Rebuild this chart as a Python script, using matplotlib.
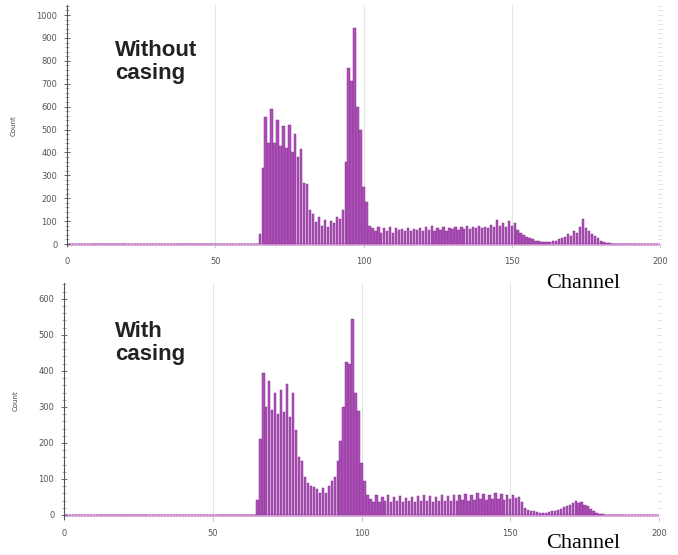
import numpy as np
import matplotlib.pyplot as plt
from matplotlib.ticker import MultipleLocator

# channel axis 0..200, counts (zero outside the listed span)
channels = np.arange(201)
first_channel = 64

# top histogram: without casing (channels 64..185)
counts_without = [0, 45, 330, 555, 440, 590, 440, 540, 430, 515,
                  420, 520, 400, 480, 380, 415, 265, 260, 150, 130,
                  95, 120, 80, 105, 75, 100, 90, 120, 110, 150,
                  360, 770, 710, 945, 600, 500, 250, 185, 80, 70,
                  55, 75, 50, 70, 55, 75, 50, 70, 60, 65,
                  55, 70, 55, 65, 60, 70, 55, 75, 60, 80,
                  55, 70, 60, 75, 55, 70, 65, 75, 60, 75,
                  65, 80, 65, 75, 70, 80, 70, 75, 70, 85,
                  75, 105, 80, 90, 75, 100, 80, 90, 60, 50,
                  40, 30, 25, 20, 15, 12, 10, 10, 8, 10,
                  12, 15, 20, 25, 30, 45, 35, 55, 50, 75,
                  110, 70, 55, 45, 35, 25, 15, 10, 5, 3,
                  2, 0]

# bottom histogram: with casing (channels 64..185)
counts_with = [0, 42, 210, 395, 300, 372, 292, 340, 280, 348,
               285, 365, 272, 340, 235, 160, 150, 105, 90, 80,
               78, 72, 60, 75, 62, 80, 95, 105, 150, 205,
               300, 425, 420, 545, 340, 290, 145, 95, 55, 45,
               35, 55, 35, 50, 38, 55, 35, 50, 38, 52,
               35, 48, 38, 50, 36, 52, 38, 55, 40, 52,
               36, 50, 40, 55, 38, 52, 40, 56, 38, 55,
               42, 58, 40, 55, 42, 60, 45, 58, 42, 56,
               45, 60, 45, 58, 42, 55, 45, 55, 48, 50,
               35, 20, 15, 12, 10, 8, 6, 5, 5, 8,
               10, 12, 15, 18, 22, 25, 28, 32, 38, 32,
               36, 28, 25, 18, 10, 5, 3, 2, 0, 0,
               0, 0]

x_ticks = [0, 50, 100, 150, 200]
top_yticks = list(range(0, 1001, 100))
bottom_yticks = list(range(0, 601, 100))


def full(values):
    arr = np.zeros(len(channels))
    arr[first_channel:first_channel + len(values)] = values
    return arr


fig = plt.figure(figsize=(6.78, 5.55), dpi=100)

# axes placed in pixel terms of the 678x555 picture
ax1 = fig.add_axes([67 / 678, 1 - 246.3 / 555, 593 / 678, 241.3 / 555])
ax2 = fig.add_axes([64 / 678, 1 - 518.6 / 555, 595 / 678, 235.6 / 555])

panels = [
    (ax1, full(counts_without), top_yticks, (-10, 1044), "Without\ncasing", 40),
    (ax2, full(counts_with), bottom_yticks, (-10, 644), "With\ncasing", 321),
]

for ax, counts, yticks, ylim, label, label_top in panels:
    for gx in [50, 100, 150]:
        ax.axvline(gx, color="#e4e4e4", lw=0.8, zorder=0)
    ax.axhline(0, color="#dcaede", lw=2.2, zorder=1)
    ax.bar(channels, counts, width=0.8, color="#ac4fb6",
           edgecolor="#8a3594", linewidth=0.35, align="center", zorder=2)

    ax.set_xlim(0, 200)
    ax.set_ylim(*ylim)
    ax.set_xticks(x_ticks)
    ax.set_yticks(yticks)
    ax.xaxis.set_minor_locator(MultipleLocator(10))
    ax.yaxis.set_minor_locator(MultipleLocator(20))
    ax.tick_params(axis="y", which="major", labelsize=6, colors="#666666",
                   labelcolor="#555555", direction="inout", length=4, width=0.7,
                   pad=5)
    ax.tick_params(axis="y", which="minor", colors="#888888",
                   direction="inout", length=2.5, width=0.5)
    ax.tick_params(axis="x", which="major", labelsize=6, colors="#bbbbbb",
                   labelcolor="#555555", direction="inout", length=3, width=0.6,
                   pad=6)
    ax.tick_params(axis="x", which="minor", colors="#dddddd",
                   direction="inout", length=2, width=0.4)

    for side in ["top", "bottom", "right"]:
        ax.spines[side].set_visible(False)
    ax.spines["left"].set_color("#555555")
    ax.spines["left"].set_linewidth(0.8)

    # faint tick column on the right edge
    rax = ax.twinx()
    rax.set_ylim(*ylim)
    rax.set_yticks(yticks)
    rax.yaxis.set_minor_locator(MultipleLocator(20))
    rax.tick_params(axis="y", which="both", colors="#d5d5d5", labelright=False,
                    direction="inout", length=2.5, width=0.5)
    for side in ["top", "bottom", "left", "right"]:
        rax.spines[side].set_visible(False)

    ax.set_ylabel("Count", fontsize=5, color="#444444", labelpad=14)

    fig.text(115 / 678, 1 - label_top / 555, label, fontsize=16,
             fontweight="bold", family="Liberation Sans", color="#222222",
             va="top", ha="left", linespacing=1.15)

fig.text(546 / 678, 1 - 283 / 555, "Channel", fontsize=16,
         family="Liberation Serif", va="center", ha="left")
fig.text(546 / 678, 1 - 543 / 555, "Channel", fontsize=16,
         family="Liberation Serif", va="center", ha="left")

fig.savefig("out.png", dpi=100, facecolor="white")
